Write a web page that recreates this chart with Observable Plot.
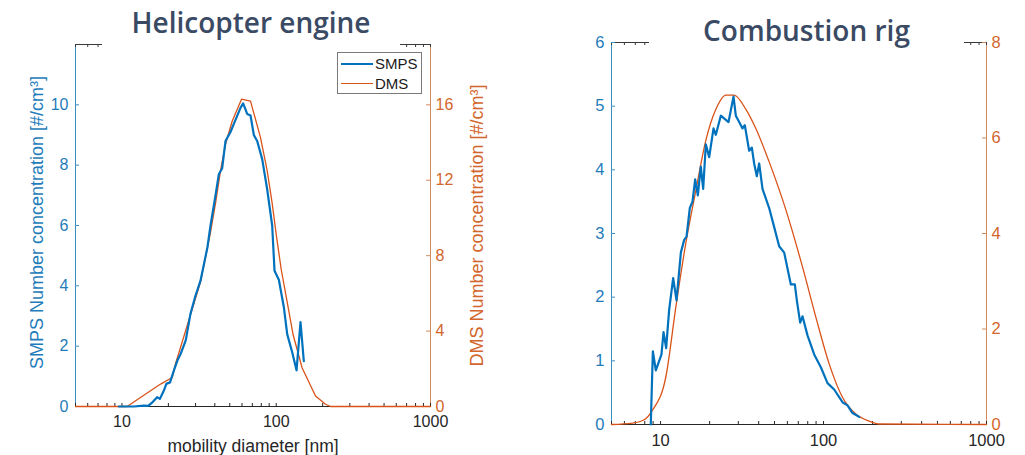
<!DOCTYPE html>
<html><head><meta charset="utf-8">
<script src="https://cdn.jsdelivr.net/npm/d3@7"></script>
<script src="https://cdn.jsdelivr.net/npm/@observablehq/plot@0.6"></script>
<style>
body{margin:0;background:#fff;}
#wrap{position:relative;width:1025px;height:455px;overflow:hidden;font-family:"Liberation Sans",Arial,sans-serif;background:#fff;}
.panel{position:absolute;top:0;}
.title{position:absolute;top:0;background:#fff;color:#3b4a64;font-family:"Open Sans",sans-serif;font-weight:600;font-size:28px;line-height:28px;text-align:center;white-space:nowrap;}
.legend{position:absolute;box-sizing:border-box;border:1px solid #7a7a7a;background:#fff;font-family:"Liberation Sans",Arial,sans-serif;font-size:15px;color:#1a1a1a;}
.legend .ln{position:absolute;left:3px;width:32px;}
.legend .tx{position:absolute;left:37px;}
</style></head><body><div id="wrap"></div><script>
// ---------- data ----------
const titles = ["Helicopter engine", "Combustion rig"];
const seriesNames = ["SMPS", "DMS"];
const xTickValues = [10, 100, 1000];
const xLabel = "mobility diameter [nm]";
const leftLabel = "SMPS Number concentration [#/cm³]";
const rightLabel = "DMS Number concentration [#/cm³]";

// Helicopter engine
const heliSmpsDiameter = [9.55, 11.94, 13.87, 14.8, 15.6, 16.9, 17.6, 18.7, 19.4, 20.5, 21.7, 23.0, 24.0, 25.9, 27.8, 30.0, 32.3, 35.8, 37.51, 40.41, 42.47, 44.64, 46.91, 50.54, 54.46, 58.68, 61.06, 64.82, 68.13, 71.61, 75.26, 81.10, 87.38, 94.15, 97.48, 104.0, 112.0, 117.8, 126.9, 135.4, 143.7, 151.0];
const heliSmps = [0, 0, 0.03, 0.02, 0.12, 0.31, 0.25, 0.53, 0.75, 0.8, 1.19, 1.55, 1.74, 2.19, 3.07, 3.68, 4.17, 5.27, 6.0, 7.0, 7.7, 7.9, 8.8, 9.1, 9.5, 9.9, 10.05, 9.7, 9.65, 9.0, 8.8, 8.2, 7.2, 6.0, 4.5, 4.2, 3.3, 2.4, 1.8, 1.2, 2.8, 1.5];
const heliDmsDiameter = [5, 10.8, 17.8, 21.2, 22.2, 27.8, 32.3, 37.5, 40.41, 43.54, 46.91, 51.82, 59.57, 68.13, 79.10, 87.38, 94.15, 100.4, 107.7, 117.8, 128.8, 147.3, 179.8, 208.7, 224.8, 1000];
const heliDms = [0, 0, 1.19, 1.54, 2.24, 4.86, 6.6, 9.23, 10.77, 12.51, 13.91, 15.13, 16.3, 16.2, 14.26, 12.51, 10.77, 9.02, 7.28, 5.53, 3.79, 2.04, 0.56, 0.12, 0, 0];
const heliLeftTicks = [0, 2, 4, 6, 8, 10];
const heliRightTicks = [0, 4, 8, 12, 16];
const heliLeftMax = 12, heliRightMax = 19.2;

// Combustion rig
const rigSmpsDiameter = [8.71, 8.97, 9.35, 9.81, 10.13, 10.43, 10.82, 11.29, 11.95, 12.53, 13.32, 13.96, 14.43, 15.12, 15.70, 16.31, 16.93, 17.66, 18.26, 18.96, 19.88, 21.13, 21.84, 23.43, 26.12, 28.03, 28.96, 30.37, 31.83, 32.89, 34.97, 36.32, 37.53, 38.96, 40.28, 42.22, 46.39, 49.80, 53.44, 57.36, 63.01, 66.67, 68.58, 71.89, 74.30, 79.74, 87.63, 96.27, 105.8, 116.2, 130.7, 140.3, 150.6, 165.4];
const rigSmps = [0, 1.15, 0.85, 1.0, 1.1, 1.45, 1.2, 1.8, 2.3, 1.95, 2.7, 2.9, 2.95, 3.4, 3.5, 3.85, 3.6, 4.05, 3.7, 4.4, 4.2, 4.65, 4.55, 4.85, 4.75, 5.15, 4.85, 4.75, 4.65, 4.7, 4.3, 4.35, 4.1, 3.9, 4.1, 3.7, 3.4, 3.1, 2.8, 2.7, 2.2, 2.2, 1.95, 1.6, 1.7, 1.4, 1.1, 0.9, 0.65, 0.55, 0.35, 0.3, 0.18, 0.12];
const rigDmsDiameter = [5, 6.73, 7.94, 8.93, 10.78, 12.41, 14.29, 16.46, 18.96, 21.84, 25.15, 28.29, 33.38, 38.43, 46.39, 58.70, 74.30, 89.71, 108.3, 130.7, 157.8, 190.6, 219.5, 1000];
const rigDms = [0, 0.03, 0.1, 0.3, 1.0, 2.46, 3.8, 4.9, 5.95, 6.6, 6.9, 6.9, 6.6, 6.2, 5.5, 4.5, 3.3, 2.25, 1.27, 0.57, 0.22, 0.07, 0.01, 0];
const rigLeftTicks = [0, 1, 2, 3, 4, 5, 6];
const rigRightTicks = [0, 2, 4, 6, 8];
const rigLeftMax = 6, rigRightMax = 8;

// ---------- style ----------
const blue = "#0072BD", orange = "#D95319";
const blueText = "#1f7cba", orangeText = "#d2662c";
const blueAxis = "#3a8fc4", orangeAxis = "#d58a5e";
const dark = "#262626";
const H = 455;

const minorTicks = [];
for (const base of [1, 10, 100]) for (let k = 1; k <= 9; k++) { const v = k * base; if (v >= 5 && v <= 1000) minorTicks.push(v); }
minorTicks.push(1000);

function panel(o) {
  const plotW = o.width - o.ml - o.mr, plotH = H - o.mt - o.mb;
  const ratio = o.rightMax / o.leftMax;
  const smps = o.smpsD.map((d, i) => ({d, v: o.smpsV[i]}));
  const dms = o.dmsD.map((d, i) => ({d, v: o.dmsV[i]}));
  const marks = [
    Plot.ruleY([o.leftMax], {stroke: "#3a3a3a"}),
    Plot.ruleY([0], {stroke: dark}),
    Plot.ruleX([5], {stroke: blueAxis}),
    Plot.ruleX([1000], {stroke: orangeAxis}),
    Plot.tickX(minorTicks, {x: d => d, insetTop: plotH - 3, stroke: dark}),
    Plot.tickX(minorTicks, {x: d => d, insetBottom: plotH - 3, stroke: "#3a3a3a"}),
    Plot.tickY(o.leftTicks, {y: d => d, insetRight: plotW - 4, stroke: blueAxis}),
    Plot.tickY(o.rightTicks, {y: d => d / ratio, insetLeft: plotW - 4, stroke: orangeAxis}),
    Plot.axisX(xTickValues, {tickSize: 0, tickPadding: o.xPad, fontSize: o.fs, color: dark, tickFormat: d => String(d), label: null}),
    Plot.axisY(o.leftTicks, {anchor: "left", tickSize: 0, tickPadding: 7, fontSize: o.fs, color: blueText, tickFormat: d => String(d), label: null}),
    Plot.axisY(o.rightTicks.map(v => v / ratio), {anchor: "right", tickSize: 0, tickPadding: 5, fontSize: o.fs, color: orangeText, tickFormat: d => String(Math.round(d * ratio)), label: null}),
    Plot.line(dms, {x: "d", y: d => d.v / ratio, stroke: orange, strokeWidth: 1.3, curve: o.dmsCurve}),
    Plot.line(smps, {x: "d", y: "v", stroke: blue, strokeWidth: 2.2})
  ];
  if (o.labels) {
    marks.push(
      Plot.text([leftLabel], {text: d => d, frameAnchor: "left", textAnchor: "middle", lineAnchor: "middle", dx: -38, dy: -3, rotate: -90, fill: blueText, fontSize: 18}),
      Plot.text([rightLabel], {text: d => d, frameAnchor: "right", textAnchor: "middle", lineAnchor: "middle", dx: 47, rotate: -90, fill: orangeText, fontSize: 18}),
      Plot.text([xLabel], {text: d => d, frameAnchor: "bottom", lineAnchor: "middle", dy: 40, fill: dark, fontSize: 17.5})
    );
  }
  return Plot.plot({
    width: o.width, height: H,
    marginLeft: o.ml, marginRight: o.mr, marginTop: o.mt, marginBottom: o.mb,
    style: {fontFamily: "'Liberation Sans', Arial, sans-serif", background: "transparent", overflow: "visible"},
    x: {type: "log", domain: [5, 1000]},
    y: {domain: [0, o.leftMax]},
    marks
  });
}

const wrap = document.getElementById("wrap");
const p1 = panel({width: 512, ml: 75, mr: 82, mt: 44, mb: 49, leftMax: heliLeftMax, rightMax: heliRightMax,
  smpsD: heliSmpsDiameter, smpsV: heliSmps, dmsD: heliDmsDiameter, dmsV: heliDms,
  leftTicks: heliLeftTicks, rightTicks: heliRightTicks, fs: 16, xPad: 9, labels: true, dmsCurve: "linear"});
const p2 = panel({width: 513, ml: 99, mr: 39, mt: 42, mb: 31, leftMax: rigLeftMax, rightMax: rigRightMax,
  smpsD: rigSmpsDiameter, smpsV: rigSmps, dmsD: rigDmsDiameter, dmsV: rigDms,
  leftTicks: rigLeftTicks, rightTicks: rigRightTicks, fs: 16.5, xPad: 10, labels: false, dmsCurve: "monotone-x"});
const d1 = document.createElement("div"); d1.className = "panel"; d1.style.left = "0px"; d1.appendChild(p1); wrap.appendChild(d1);
const d2 = document.createElement("div"); d2.className = "panel"; d2.style.left = "512px"; d2.appendChild(p2); wrap.appendChild(d2);

function addTitle(text, left, width, padTop, height) {
  const t = document.createElement("div");
  t.className = "title";
  t.style.left = left + "px"; t.style.width = width + "px";
  t.style.paddingTop = padTop + "px"; t.style.height = (height - padTop) + "px";
  t.textContent = text;
  wrap.appendChild(t);
}
addTitle(titles[0], 102, 298, 8, 47);
addTitle(titles[1], 649, 315, 16, 46);

const lg = document.createElement("div");
lg.className = "legend";
Object.assign(lg.style, {left: "337px", top: "52px", width: "85px", height: "42px"});
lg.innerHTML =
  `<div class="ln" style="top:10px;height:2px;background:${blue}"></div><div class="tx" style="top:2px">${seriesNames[0]}</div>` +
  `<div class="ln" style="top:30px;height:1.3px;background:${orange}"></div><div class="tx" style="top:22px">${seriesNames[1]}</div>`;
wrap.appendChild(lg);
</script></body></html>
